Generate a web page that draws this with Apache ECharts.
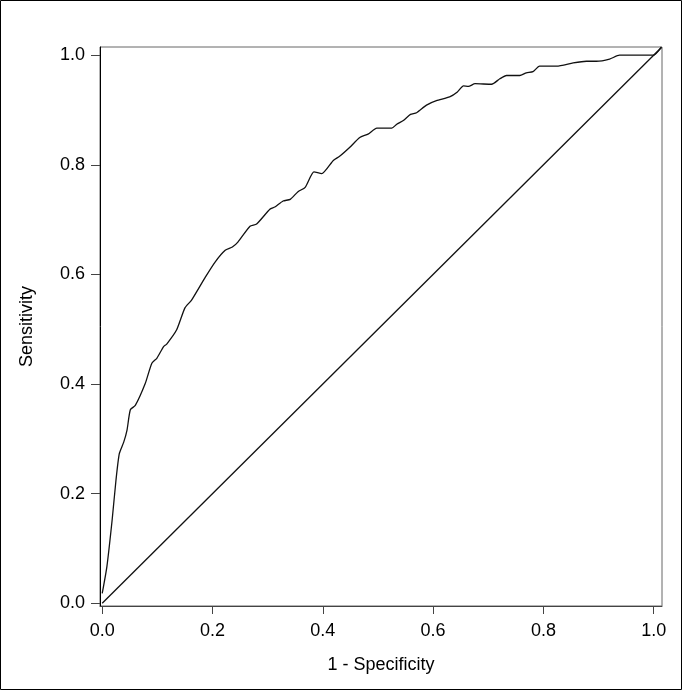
<!DOCTYPE html>
<html>
<head>
<meta charset="utf-8">
<script src="https://cdn.jsdelivr.net/npm/echarts@6/dist/echarts.min.js"></script>
<style>
  html, body { margin: 0; padding: 0; background: #fff; }
  #main { width: 683px; height: 691px; }
</style>
</head>
<body>
<div id="main"></div>
<script>
// ROC curve
var fpr = [0.000, 0.0085, 0.018, 0.025, 0.031, 0.039, 0.045, 0.051, 0.060, 0.078,
  0.090, 0.099, 0.111, 0.117, 0.135, 0.150, 0.162, 0.187, 0.205, 0.223,
  0.236, 0.246, 0.268, 0.280, 0.304, 0.313, 0.328, 0.341, 0.355, 0.368,
  0.384, 0.398, 0.419, 0.431, 0.449, 0.467, 0.482, 0.498, 0.525, 0.534,
  0.546, 0.559, 0.570, 0.588, 0.606, 0.630, 0.644, 0.655, 0.664, 0.676,
  0.706, 0.721, 0.733, 0.757, 0.769, 0.781, 0.793, 0.824, 0.854, 0.878,
  0.896, 0.920, 0.938, 0.999, 1.014];
var tpr = [0.018, 0.067, 0.152, 0.225, 0.273, 0.294, 0.316, 0.353, 0.361, 0.401,
  0.438, 0.447, 0.468, 0.473, 0.499, 0.539, 0.553, 0.595, 0.623, 0.644,
  0.650, 0.659, 0.688, 0.692, 0.719, 0.723, 0.734, 0.737, 0.751, 0.759,
  0.787, 0.784, 0.808, 0.816, 0.832, 0.850, 0.856, 0.867, 0.867, 0.874,
  0.881, 0.892, 0.895, 0.909, 0.917, 0.924, 0.933, 0.944, 0.943, 0.948,
  0.947, 0.957, 0.963, 0.963, 0.968, 0.970, 0.980, 0.980, 0.986, 0.989,
  0.989, 0.993, 1.000, 1.000, 1.015];
var diagX = [0, 1.014];
var diagY = [0, 1.014];
var ticks = [0, 0.2, 0.4, 0.6, 0.8, 1.0];

var chart = echarts.init(document.getElementById('main'));

var font = 'Liberation Sans, Arial, sans-serif';

chart.setOption({
  animation: false,
  grid: {
    left: 100, right: 21, top: 47, bottom: 85,
    show: true, borderColor: '#666', borderWidth: 1
  },
  xAxis: {
    type: 'value',
    min: -0.004, max: 1.015,
    name: '1 - Specificity',
    nameLocation: 'middle',
    nameGap: 50,
    nameTextStyle: { color: '#000', fontSize: 18, fontFamily: font },
    splitLine: { show: false },
    axisLine: { onZero: false, lineStyle: { color: '#444', width: 1 } },
    axisTick: { customValues: ticks, length: 8, lineStyle: { color: '#444' } },
    axisLabel: {
      customValues: ticks, margin: 16, color: '#000', fontSize: 18, fontFamily: font,
      formatter: function (v) { return v.toFixed(1); }
    }
  },
  yAxis: {
    type: 'value',
    min: -0.005, max: 1.015,
    name: 'Sensitivity',
    nameLocation: 'middle',
    nameGap: 64,
    nameTextStyle: { color: '#000', fontSize: 18, fontFamily: font },
    splitLine: { show: false },
    axisLine: { show: true, onZero: false, lineStyle: { color: '#000', width: 1 } },
    axisTick: { show: true, customValues: ticks, length: 9, lineStyle: { color: '#444' } },
    axisLabel: {
      customValues: ticks, margin: 15, color: '#000', fontSize: 18, fontFamily: font,
      formatter: function (v) { return v.toFixed(1); }
    }
  },
  graphic: [{
    type: 'rect',
    shape: { x: 0.5, y: 0.5, width: 681, height: 689 },
    style: { fill: null, stroke: '#000', lineWidth: 1 },
    silent: true
  }],
  series: [{
    type: 'line',
    data: diagX.map(function (x, i) { return [x, diagY[i]]; }),
    symbol: 'none',
    lineStyle: { color: '#111', width: 1.3 }
  }, {
    type: 'line',
    data: fpr.map(function (x, i) { return [x, tpr[i]]; }),
    symbol: 'none',
    smooth: 0.2,
    lineStyle: { color: '#111', width: 1.3 }
  }]
});
</script>
</body>
</html>
